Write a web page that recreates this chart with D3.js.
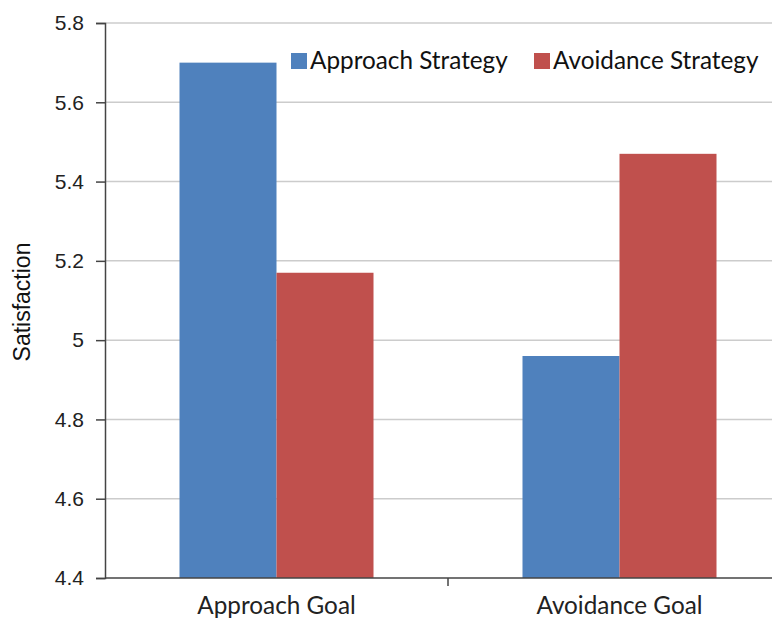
<!DOCTYPE html>
<html>
<head>
<meta charset="utf-8">
<script src="https://cdn.jsdelivr.net/npm/d3@7"></script>
<style>
  html, body { margin: 0; padding: 0; background: #fff; }
  svg { display: block; }
</style>
</head>
<body>
<svg id="chart" width="772" height="623"></svg>
<script>
// Mean satisfaction by goal type and regulatory strategy
const goals = ["Approach Goal", "Avoidance Goal"];
const strategies = ["Approach Strategy", "Avoidance Strategy"];
const approachStrategy = [5.70, 4.96];
const avoidanceStrategy = [5.17, 5.47];
const yTicks = [4.4, 4.6, 4.8, 5.0, 5.2, 5.4, 5.6, 5.8];
const colors = ["#4F81BD", "#C0504D"];

const svg = d3.select("#chart");
const plotLeft = 105, plotTop = 23, plotBottom = 578, bandW = 343;

const x = d3.scaleBand().domain(goals).range([plotLeft, plotLeft + bandW * goals.length]).paddingInner(0).paddingOuter(0);
const xs = d3.scaleBand().domain(strategies).range([0, bandW]).paddingInner(0).paddingOuter(0.768);
const y = d3.scaleLinear().domain([4.4, 5.8]).range([plotBottom, plotTop]);

// gridlines
svg.append("g").selectAll("line").data(yTicks.slice(1)).join("line")
  .attr("x1", plotLeft).attr("x2", 772)
  .attr("y1", d => y(d)).attr("y2", d => y(d))
  .attr("stroke", "#cccccc").attr("stroke-width", 1.5);

// bars
const rows = goals.map((g, i) => ({ goal: g, values: [approachStrategy[i], avoidanceStrategy[i]] }));
svg.append("g").selectAll("g").data(rows).join("g")
  .attr("transform", d => `translate(${x(d.goal)},0)`)
  .selectAll("rect").data(d => d.values.map((v, j) => ({ s: strategies[j], v, c: colors[j] })))
  .join("rect")
  .attr("x", d => xs(d.s)).attr("width", xs.bandwidth())
  .attr("y", d => y(d.v)).attr("height", d => y(4.4) - y(d.v))
  .attr("fill", d => d.c);

// y axis
const yAxis = d3.axisLeft(y).tickValues(yTicks).tickSize(9).tickPadding(12)
  .tickFormat(d => d === 5 ? "5" : d3.format(".1f")(d));
const gy = svg.append("g").attr("transform", `translate(${plotLeft},0)`).call(yAxis);
gy.select(".domain").attr("stroke", "#444").attr("stroke-width", 1.5);
gy.selectAll(".tick line").attr("stroke", "#444").attr("stroke-width", 1.5);
gy.selectAll(".tick text").attr("fill", "#222").style("font-family", "Liberation Sans, Arial, sans-serif").style("font-size", "21px");

// x axis
svg.append("line").attr("x1", plotLeft).attr("x2", 772).attr("y1", plotBottom).attr("y2", plotBottom)
  .attr("stroke", "#444").attr("stroke-width", 1.5);
svg.append("g").selectAll("line").data(goals.slice(1)).join("line")
  .attr("x1", d => x(d)).attr("x2", d => x(d)).attr("y1", plotBottom).attr("y2", plotBottom + 8)
  .attr("stroke", "#444").attr("stroke-width", 1.5);
svg.append("g").selectAll("text").data(goals).join("text")
  .attr("x", d => x(d) + bandW / 2).attr("y", 614)
  .attr("text-anchor", "middle")
  .style("font-family", "Lato, Carlito, sans-serif").style("font-size", "24.3px").attr("fill", "#222")
  .text(d => d);

// y title
svg.append("text").attr("transform", "translate(30,302) rotate(-90)")
  .attr("text-anchor", "middle")
  .style("font-family", "Liberation Sans, Arial, sans-serif").style("font-size", "23px").attr("fill", "#111")
  .text("Satisfaction");

// legend
const legendX = [291, 534];
const lg = svg.append("g").selectAll("g").data(strategies).join("g")
  .attr("transform", (d, i) => `translate(${legendX[i]},53)`);
lg.append("rect").attr("width", 16).attr("height", 16).attr("fill", (d, i) => colors[i]);
lg.append("text").attr("x", 19).attr("y", 16)
  .style("font-family", "Lato, Carlito, sans-serif").style("font-size", "24.3px").attr("fill", "#111")
  .text(d => d);
</script>
</body>
</html>
